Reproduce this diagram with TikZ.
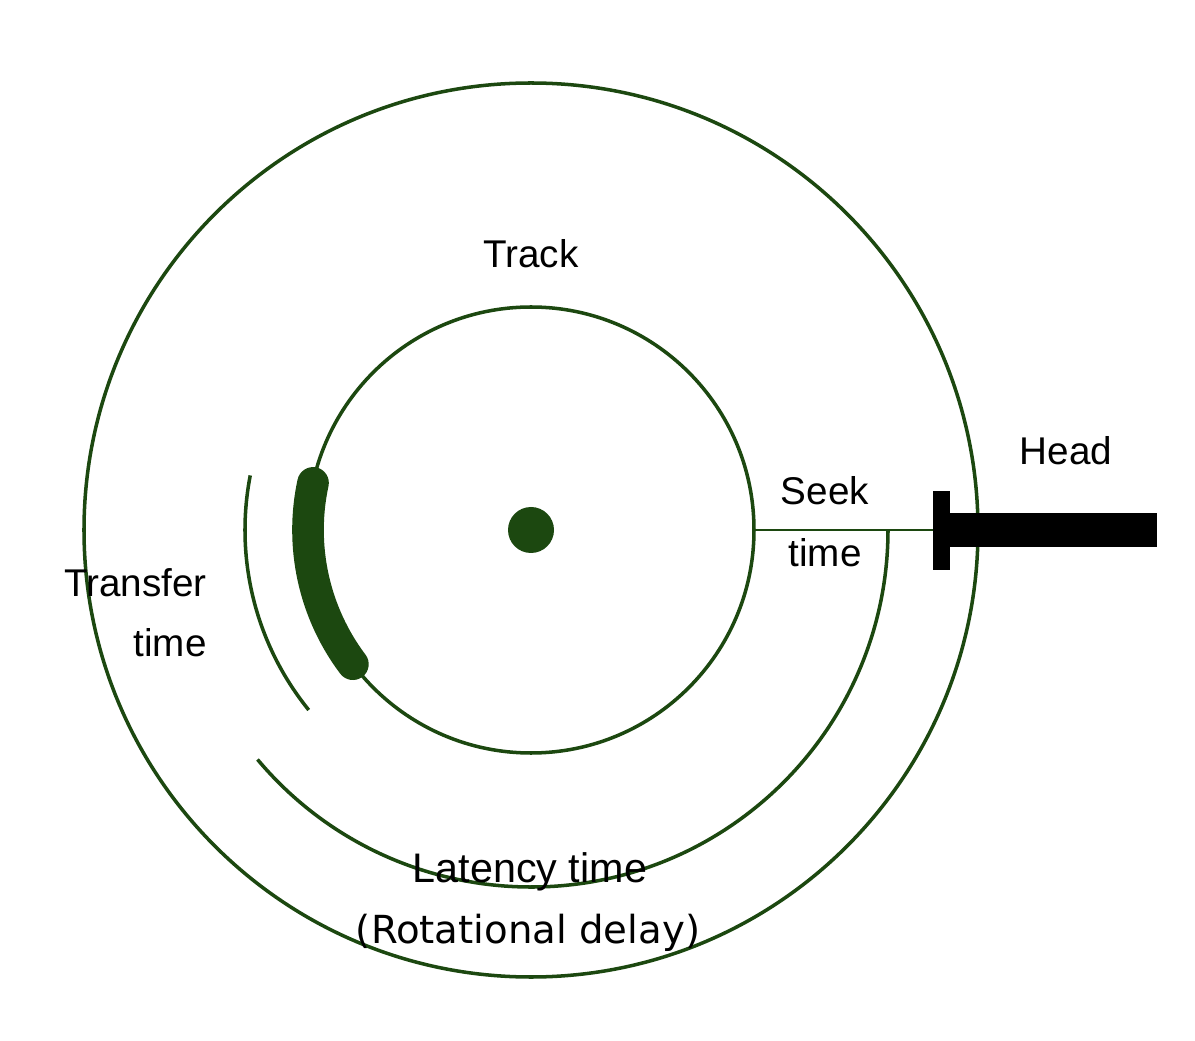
\documentclass[tikz,border=0pt]{standalone}
\usepackage{fontspec}
\setmainfont{Liberation Sans}
\newfontfamily\delayfont{DejaVu Sans}
\usepackage{tikz}
\definecolor{diskgreen}{RGB}{28,72,16}

\begin{document}
\begin{tikzpicture}[x=0.02cm,y=0.02cm,
  track/.style={draw=diskgreen,line width=2pt},
  lbl/.style={font=\fontsize{22}{26}\selectfont,anchor=base,inner sep=0pt}]
\useasboundingbox (-531,-510) rectangle (664,530);

%% disk
\draw[track] (0,0) circle (447);
\draw[track] (0,0) circle (223);
\fill[diskgreen] (0,0) circle (23);
%% sector
\draw[diskgreen,line width=18pt,line cap=round] (167.8:223) arc (167.8:217:223);
%%% arcs
\draw[track] (169:286) arc (169:219:286);
\draw[track] (220:357) arc (220:360:357);

%% head
\fill[black] (402,-40) rectangle (419,39);
\fill[black] (419,-17) rectangle (626,17);
\coordinate (trk) at (0:223);
\coordinate (hd) at (402,0);
\draw[diskgreen,line width=1.7pt] (trk) -- (hd);

%% labels
\node[lbl] (track) at (0,262) {Track};
\node[lbl] (head) at (535,65) {Head};
\node[lbl] (seek) at (294,25) {Seek};
\node[lbl] (seektime) at (294,-37) {time};
\node[lbl,anchor=base east] (transfer) at (-324,-67) {Transfer};
\node[lbl,anchor=base east] (transfertime) at (-324,-126) {time};
\node[lbl,font=\fontsize{23.5}{28}\selectfont] (latency) at (-1,-352) {Latency time};
\node[lbl,font=\delayfont\fontsize{22}{26}\selectfont] (delay) at (-3,-413) {(Rotational delay)};

\end{tikzpicture}
\end{document}
